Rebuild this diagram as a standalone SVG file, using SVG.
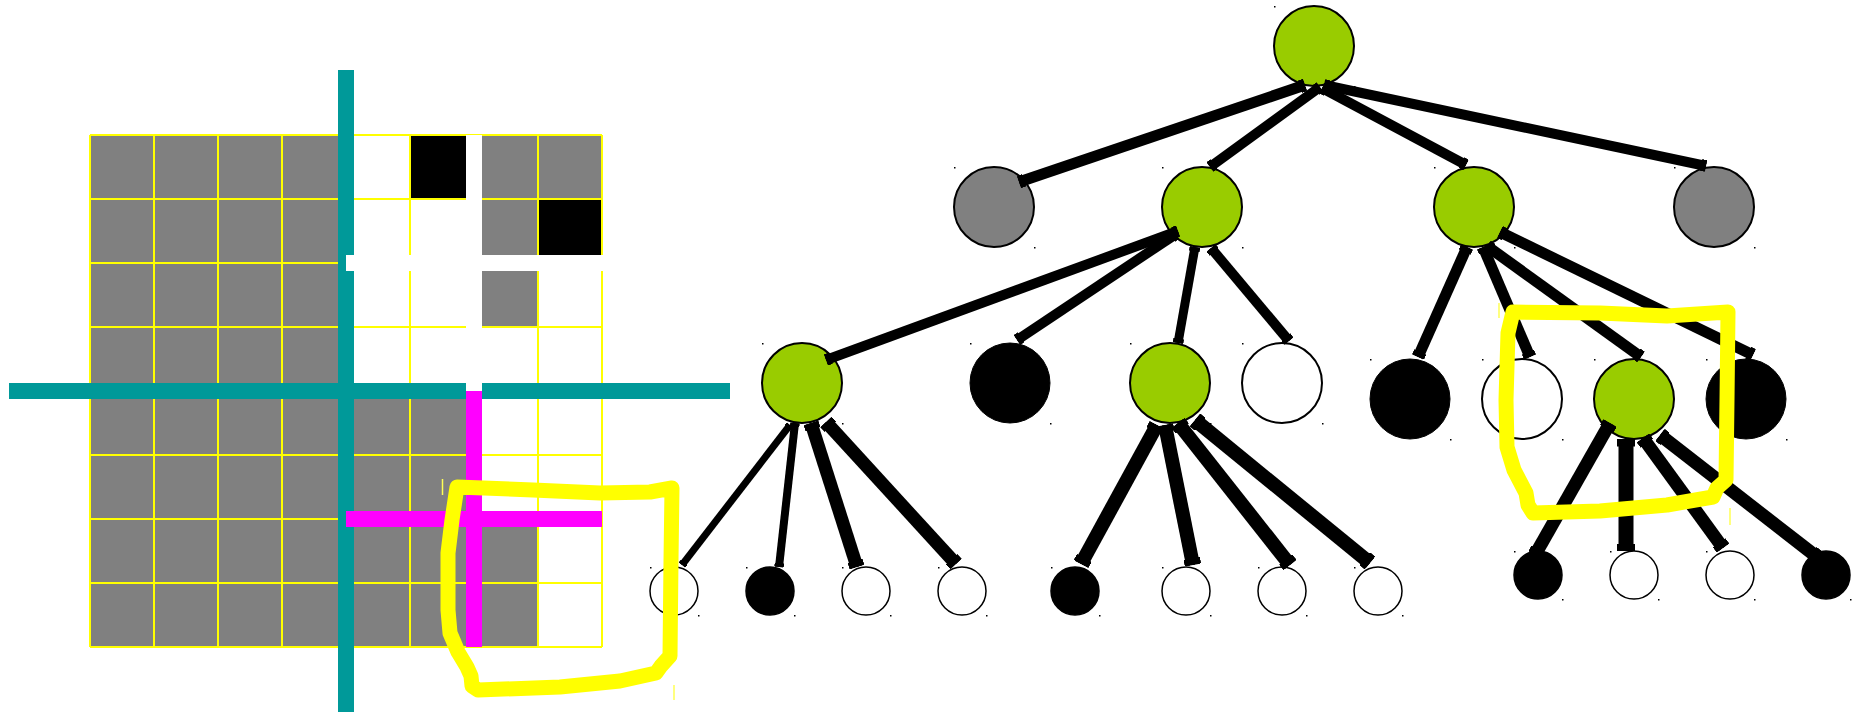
<svg xmlns="http://www.w3.org/2000/svg" width="1856" height="712" viewBox="0 0 1856 712">
<style>
.gcell{fill:#808080}
.wcell{fill:#ffffff}
.bcell{fill:#000000}
.gridlines{stroke:#FFFF00;stroke-width:2;fill:none}
.teal{fill:#009999}
.mag{fill:#FF00FF}
.wbar{fill:#ffffff}
.edge{stroke:#000;fill:none;stroke-linecap:butt;marker-start:url(#cap);marker-end:url(#cap)}
.green{fill:#99CC00;stroke:#000;stroke-width:2}
.gray{fill:#808080;stroke:#000;stroke-width:2}
.white{fill:#ffffff;stroke:#000;stroke-width:2}
.black{fill:#000;stroke:#000;stroke-width:1}
.leaf{stroke-width:1.5}
.dot{fill:#000}
.hl{fill:none;stroke:#FFFF00;stroke-width:15;stroke-linejoin:round;stroke-linecap:round}
.tick{stroke:#FFFF55;stroke-width:1.5}
</style>
<defs>
<marker id="cap" viewBox="0 0 5 12" refX="5" refY="6" markerWidth="0.5" markerHeight="1.2" markerUnits="strokeWidth" orient="auto-start-reverse">
<rect width="5" height="12" fill="#000"/>
</marker>
</defs>

<g id="grid">
<rect class="gcell" x="90" y="135" width="512" height="512"/>
<rect class="wcell" x="346" y="135" width="64" height="64"/>
<rect class="wcell" x="346" y="199" width="128" height="128"/>
<rect class="wcell" x="538" y="263" width="64" height="64"/>
<rect class="wcell" x="346" y="327" width="256" height="64"/>
<rect class="wcell" x="474" y="391" width="128" height="128"/>
<rect class="wcell" x="538" y="519" width="64" height="128"/>
<rect class="bcell" x="410" y="135" width="64" height="64"/>
<rect class="bcell" x="538" y="199" width="64" height="64"/>
<path class="gridlines" d="M90,135V647M154,135V647M218,135V647M282,135V647M346,135V647M410,135V647M474,135V647M538,135V647M602,135V647M90,135H602M90,199H602M90,263H602M90,327H602M90,391H602M90,455H602M90,519H602M90,583H602M90,647H602"/>
</g>

<g id="partition-lines">
<rect class="teal" x="338" y="70" width="16" height="642"/>
<rect class="teal" x="9" y="383" width="721" height="16"/>
<rect class="wbar" x="346" y="255" width="257" height="16"/>
<rect class="wbar" x="466" y="135" width="16" height="256"/>
<rect class="mag" x="466" y="391" width="16" height="256"/>
<rect class="mag" x="346" y="511" width="256" height="16"/>
</g>

<g id="nodes">
<g id="root"><circle class="green" cx="1314" cy="46" r="40"/></g>
<g id="n-a"><circle class="gray" cx="994" cy="207" r="40"/></g>
<g id="n-b"><circle class="green" cx="1202" cy="207" r="40"/></g>
<g id="n-g"><circle class="green" cx="1474" cy="207" r="40"/></g>
<g id="n-h"><circle class="gray" cx="1714" cy="207" r="40"/></g>
<g id="n-c"><circle class="green" cx="802" cy="383" r="40"/></g>
<g id="n-d"><circle class="black" cx="1010" cy="383" r="40"/></g>
<g id="n-e"><circle class="green" cx="1170" cy="383" r="40"/></g>
<g id="n-f"><circle class="white" cx="1282" cy="383" r="40"/></g>
<g id="n-i"><circle class="black" cx="1410" cy="399" r="40"/></g>
<g id="n-j"><circle class="white" cx="1522" cy="399" r="40"/></g>
<g id="n-k"><circle class="green" cx="1634" cy="399" r="40"/></g>
<g id="n-l"><circle class="black" cx="1746" cy="399" r="40"/></g>
<g id="leaf-1"><circle class="white leaf" cx="674" cy="591" r="24"/></g>
<g id="leaf-2"><circle class="black leaf" cx="770" cy="591" r="24"/></g>
<g id="leaf-3"><circle class="white leaf" cx="866" cy="591" r="24"/></g>
<g id="leaf-4"><circle class="white leaf" cx="962" cy="591" r="24"/></g>
<g id="leaf-5"><circle class="black leaf" cx="1075" cy="591" r="24"/></g>
<g id="leaf-6"><circle class="white leaf" cx="1186" cy="591" r="24"/></g>
<g id="leaf-7"><circle class="white leaf" cx="1282" cy="591" r="24"/></g>
<g id="leaf-8"><circle class="white leaf" cx="1378" cy="591" r="24"/></g>
<g id="leaf-9"><circle class="black leaf" cx="1538" cy="575" r="24"/></g>
<g id="leaf-10"><circle class="white leaf" cx="1634" cy="575" r="24"/></g>
<g id="leaf-11"><circle class="white leaf" cx="1730" cy="575" r="24"/></g>
<g id="leaf-12"><circle class="black leaf" cx="1826" cy="575" r="24"/></g>
</g>

<g id="bbox-dots">
<rect class="dot" x="1274" y="6" width="1.5" height="1.5"/><rect class="dot" x="1354" y="86" width="1.5" height="1.5"/>
<rect class="dot" x="954" y="167" width="1.5" height="1.5"/><rect class="dot" x="1034" y="247" width="1.5" height="1.5"/>
<rect class="dot" x="1162" y="167" width="1.5" height="1.5"/><rect class="dot" x="1242" y="247" width="1.5" height="1.5"/>
<rect class="dot" x="1434" y="167" width="1.5" height="1.5"/><rect class="dot" x="1514" y="247" width="1.5" height="1.5"/>
<rect class="dot" x="1674" y="167" width="1.5" height="1.5"/><rect class="dot" x="1754" y="247" width="1.5" height="1.5"/>
<rect class="dot" x="762" y="343" width="1.5" height="1.5"/><rect class="dot" x="842" y="423" width="1.5" height="1.5"/>
<rect class="dot" x="970" y="343" width="1.5" height="1.5"/><rect class="dot" x="1050" y="423" width="1.5" height="1.5"/>
<rect class="dot" x="1130" y="343" width="1.5" height="1.5"/><rect class="dot" x="1210" y="423" width="1.5" height="1.5"/>
<rect class="dot" x="1242" y="343" width="1.5" height="1.5"/><rect class="dot" x="1322" y="423" width="1.5" height="1.5"/>
<rect class="dot" x="1370" y="359" width="1.5" height="1.5"/><rect class="dot" x="1450" y="439" width="1.5" height="1.5"/>
<rect class="dot" x="1482" y="359" width="1.5" height="1.5"/><rect class="dot" x="1562" y="439" width="1.5" height="1.5"/>
<rect class="dot" x="1594" y="359" width="1.5" height="1.5"/><rect class="dot" x="1674" y="439" width="1.5" height="1.5"/>
<rect class="dot" x="1706" y="359" width="1.5" height="1.5"/><rect class="dot" x="1786" y="439" width="1.5" height="1.5"/>
<rect class="dot" x="650" y="567" width="1.5" height="1.5"/><rect class="dot" x="698" y="615" width="1.5" height="1.5"/>
<rect class="dot" x="746" y="567" width="1.5" height="1.5"/><rect class="dot" x="794" y="615" width="1.5" height="1.5"/>
<rect class="dot" x="842" y="567" width="1.5" height="1.5"/><rect class="dot" x="890" y="615" width="1.5" height="1.5"/>
<rect class="dot" x="938" y="567" width="1.5" height="1.5"/><rect class="dot" x="986" y="615" width="1.5" height="1.5"/>
<rect class="dot" x="1051" y="567" width="1.5" height="1.5"/><rect class="dot" x="1099" y="615" width="1.5" height="1.5"/>
<rect class="dot" x="1162" y="567" width="1.5" height="1.5"/><rect class="dot" x="1210" y="615" width="1.5" height="1.5"/>
<rect class="dot" x="1258" y="567" width="1.5" height="1.5"/><rect class="dot" x="1306" y="615" width="1.5" height="1.5"/>
<rect class="dot" x="1354" y="567" width="1.5" height="1.5"/><rect class="dot" x="1402" y="615" width="1.5" height="1.5"/>
<rect class="dot" x="1514" y="551" width="1.5" height="1.5"/><rect class="dot" x="1562" y="599" width="1.5" height="1.5"/>
<rect class="dot" x="1610" y="551" width="1.5" height="1.5"/><rect class="dot" x="1658" y="599" width="1.5" height="1.5"/>
<rect class="dot" x="1706" y="551" width="1.5" height="1.5"/><rect class="dot" x="1754" y="599" width="1.5" height="1.5"/>
<rect class="dot" x="1802" y="551" width="1.5" height="1.5"/><rect class="dot" x="1850" y="599" width="1.5" height="1.5"/>
</g>

<g id="connectors">
<line class="edge" stroke-width="11" x1="1305" y1="85" x2="1019" y2="182"/>
<line class="edge" stroke-width="10" x1="1320" y1="87" x2="1210" y2="167"/>
<line class="edge" stroke-width="10" x1="1322" y1="88" x2="1466" y2="165"/>
<line class="edge" stroke-width="10" x1="1324" y1="85" x2="1706" y2="166"/>
<line class="edge" stroke-width="10" x1="1178" y1="231" x2="826" y2="360"/>
<line class="edge" stroke-width="10" x1="1176" y1="234" x2="1017" y2="340"/>
<line class="edge" stroke-width="9" x1="1195" y1="247" x2="1178" y2="343"/>
<line class="edge" stroke-width="10" x1="1211" y1="248" x2="1289" y2="341"/>
<line class="edge" stroke-width="11" x1="1467" y1="247" x2="1418" y2="357"/>
<line class="edge" stroke-width="11" x1="1483" y1="247" x2="1530" y2="357"/>
<line class="edge" stroke-width="11" x1="1487" y1="246" x2="1641" y2="357"/>
<line class="edge" stroke-width="11" x1="1500" y1="232" x2="1753" y2="355"/>
<line class="edge" stroke-width="7" x1="790" y1="425" x2="682" y2="565"/>
<line class="edge" stroke-width="8" x1="795" y1="423" x2="779" y2="567"/>
<line class="edge" stroke-width="13" x1="811" y1="423" x2="857" y2="567"/>
<line class="edge" stroke-width="13" x1="826" y1="422" x2="956" y2="564"/>
<line class="edge" stroke-width="14" x1="1157" y1="425" x2="1081" y2="564"/>
<line class="edge" stroke-width="14" x1="1165" y1="425" x2="1193" y2="565"/>
<line class="edge" stroke-width="14" x1="1178" y1="423" x2="1290" y2="565"/>
<line class="edge" stroke-width="14" x1="1195" y1="420" x2="1370" y2="563"/>
<line class="edge" stroke-width="13" x1="1610" y1="423" x2="1535" y2="555"/>
<line class="edge" stroke-width="15" x1="1626" y1="439" x2="1626" y2="551"/>
<line class="edge" stroke-width="13" x1="1643" y1="438" x2="1723" y2="548"/>
<line class="edge" stroke-width="13" x1="1660" y1="435" x2="1817" y2="557"/>
</g>

<g id="highlights">
<polygon class="hl" points="457,487 452,520 448,553 448,610 450,633 458,652 467,667 471,676 472,686 478,690 560,687 620,681 656,673 661,666 670,656 671,560 672,488 650,492 600,493 533,490"/>
<polygon class="hl" points="1513,312 1600,313 1667,316 1728,312 1727,400 1726,480 1717,488 1713,497 1667,505 1600,511 1533,513 1528,505 1526,493 1514,470 1507,447 1506,400 1508,333"/>
<line class="tick" x1="442.5" y1="479" x2="442.5" y2="495"/>
<line class="tick" x1="674" y1="685" x2="674" y2="700"/>
<line class="tick" x1="1499" y1="303" x2="1499" y2="318"/>
<line class="tick" x1="1730" y1="508" x2="1730" y2="525"/>
</g>
</svg>
